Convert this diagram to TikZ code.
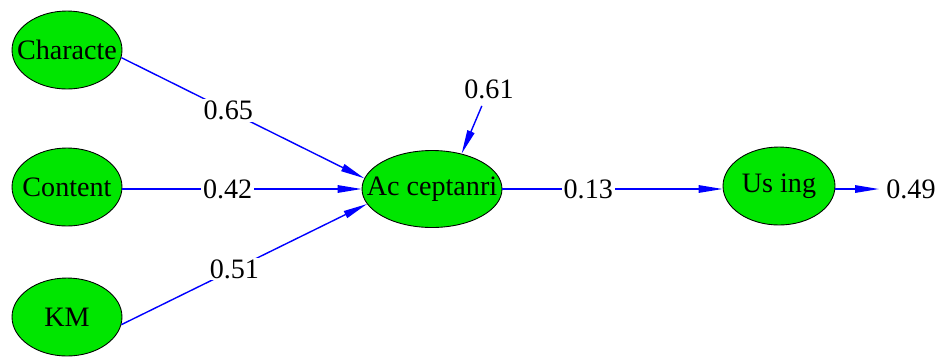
\documentclass[tikz,border=0pt]{standalone}
\usepackage{fontspec}
\setmainfont{Liberation Serif}
\usetikzlibrary{shapes.geometric,arrows.meta}
\definecolor{lvgreen}{HTML}{00E600}
\tikzset{
    lv/.style={ellipse,draw=black,line width=0.5pt,fill=lvgreen,inner xsep=-9pt,inner ysep=0pt,font=\fontsize{16}{19}\selectfont},
    path/.style={draw=blue,line width=0.8pt,-{Triangle[length=0.48cm,width=0.15cm]}},
    wt/.style={fill=white,inner sep=1pt,font=\fontsize{16}{19}\selectfont}
}
\begin{document}
\begin{tikzpicture}[x=0.02cm,y=-0.02cm]
        \useasboundingbox(0,0)rectangle(936,356);
        \node[lv,minimum width=2.2cm,minimum height=1.56cm](chr)at(67,50){Characte};
        \node[lv,minimum width=2.2cm,minimum height=1.56cm](cnt)at(67,187){Content};
        \node[lv,minimum width=2.2cm,minimum height=1.56cm](km)at(67,317){KM};
        \node[lv,minimum width=2.8cm,minimum height=1.54cm](acc)at(432,189){Ac ceptanri};
        \node[lv,minimum width=2.24cm,minimum height=1.56cm](usg)at(779,186){Us ing};
        \node[wt,inner sep=4pt](e61)at(489,89){0.61};
        \node[wt,inner sep=4pt](e49)at(911,189){0.49};
        \draw[path](chr.-8)--node[wt,pos=0.44]{0.65}(acc.171);
        \draw[path](cnt.east|-acc)--node[wt,pos=0.44]{0.42}(acc.west);
        \draw[path](km.-8)--node[wt,pos=0.46]{0.51}(acc.193);
        \draw[path](acc.east)--node[wt,pos=0.39]{0.13}(usg.west|-acc);
        \draw[path](e61)--(acc.50);
        \draw[path](usg.east|-e49)--(e49.west);
    \end{tikzpicture}
\end{document}
